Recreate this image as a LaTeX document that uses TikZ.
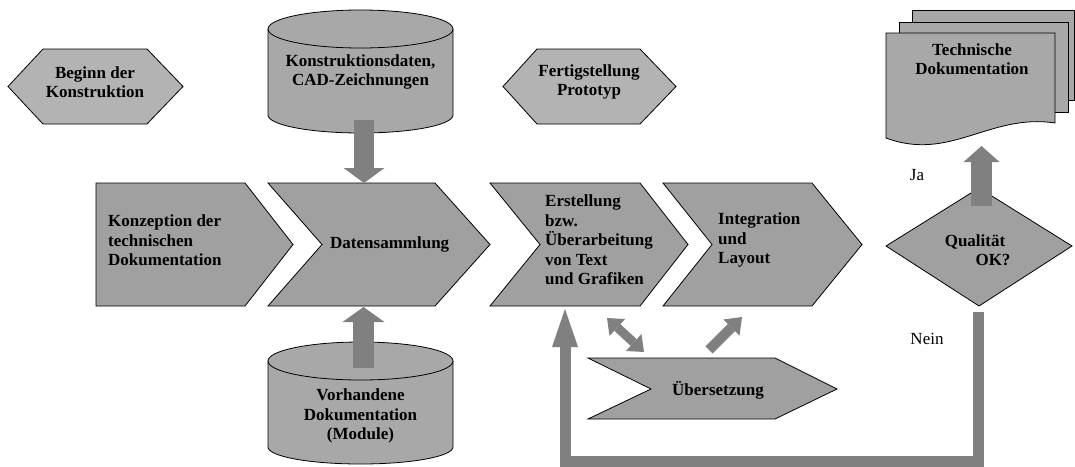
\documentclass[tikz,border=0pt]{standalone}
\usepackage{fontspec}
\setmainfont{Liberation Serif}
\usetikzlibrary{arrows.meta}
\definecolor{hexgray}{HTML}{B3B3B3}
\definecolor{chevgray}{HTML}{A0A0A0}
\definecolor{cylgray}{HTML}{A8A8A8}
\definecolor{arrgray}{HTML}{808080}
\begin{document}
\begin{tikzpicture}[x=1pt,y=-1pt,
  outl/.style={draw=black, line width=0.8pt, line join=miter},
  hexshape/.style={outl, fill=hexgray},
  chevshape/.style={outl, fill=chevgray},
  cylshape/.style={outl, fill=cylgray},
  lbl/.style={font=\fontsize{17}{19.5}\selectfont\bfseries, align=center, inner sep=0pt},
  lbll/.style={font=\fontsize{17}{19.5}\selectfont\bfseries, align=left, inner sep=0pt, anchor=west},
  plain/.style={font=\fontsize{17}{19.5}\selectfont, inner sep=0pt},
  fat/.style={draw=arrgray, line cap=butt, line join=miter}
]
\useasboundingbox (0,0) rectangle (1075,466);

% hexagons
\draw[hexshape] (8,86.5) -- (43,49) -- (147,49) -- (183,86.5) -- (147,124) -- (43,124) -- cycle;
\node[lbl] (beginn) at (95,82) {Beginn der\\Konstruktion};
\draw[hexshape] (503,86.5) -- (537,49) -- (640,49) -- (676,86.5) -- (640,124) -- (537,124) -- cycle;
\node[lbl] (fertig) at (589,82) {Fertigstellung\\Prototyp};

% cylinder 1
\draw[cylshape] (268,29) -- (268,115) arc[start angle=180,end angle=360,x radius=92.5pt,y radius=18pt]
  -- (453,29) arc[start angle=0,end angle=180,x radius=92.5pt,y radius=19pt] -- cycle;
\draw[outl] (268,29) arc[start angle=180,end angle=360,x radius=92.5pt,y radius=19pt];
\node[lbl] (cad) at (360.5,72) {Konstruktionsdaten,\\CAD-Zeichnungen};

% cylinder 2
\draw[cylshape] (268,361) -- (268,447) arc[start angle=180,end angle=360,x radius=92.5pt,y radius=17pt]
  -- (453,361) arc[start angle=0,end angle=180,x radius=92.5pt,y radius=19pt] -- cycle;
\draw[outl] (268,361) arc[start angle=180,end angle=360,x radius=92.5pt,y radius=19pt];
\node[lbl] (vorh) at (360.5,416) {Vorhandene\\Dokumentation\\(Module)};

% chevrons
\draw[chevshape] (96,183) -- (245,183) -- (293,244.5) -- (245,306) -- (96,306) -- cycle;
\node[lbll] (konz) at (108,240.5) {Konzeption der\\technischen\\Dokumentation};
\draw[chevshape] (268,183) -- (435,183) -- (490,244.5) -- (435,306) -- (268,306) -- (322,244.5) -- cycle;
\node[lbll] (daten) at (330,244) {Datensammlung};
\draw[chevshape] (490,183) -- (640,183) -- (688,244.5) -- (640,306) -- (490,306) -- (540,244.5) -- cycle;
\node[lbll] (erst) at (545,240) {Erstellung\\bzw.\\Überarbeitung\\von Text\\und Grafiken};
\draw[chevshape] (663,183) -- (812,183) -- (862,244.5) -- (812,306) -- (663,306) -- (712,244.5) -- cycle;
\node[lbll] (integ) at (718,240) {Integration\\und\\Layout};

% Uebersetzung
\draw[chevshape] (588,358) -- (775,358) -- (837,389) -- (775,419) -- (588,419) -- (651,389) -- cycle;
\node[lbl] (ueber) at (718,390) {Übersetzung};

% diamond
\draw[chevshape] (979,188) -- (1072,246) -- (979,306) -- (886,246) -- cycle;
\node[lbl] (qual) at (975,250) {Qualität\\\hspace*{36pt}OK?};

% technical documentation stack
\draw[cylshape] (912,10) rectangle (1074,100);
\draw[cylshape] (899,22) rectangle (1068,112);
\draw[cylshape] (886,33) -- (1055,33) -- (1055,123) .. controls (990,113) and (950,162) .. (886,138) -- cycle;
\node[lbl] (tdoc) at (972,59) {Technische\\Dokumentation};

% labels
\node[plain] (ja) at (917,175) {Ja};
\node[plain] (nein) at (927,339) {Nein};

% connector end points
\coordinate (cadOut) at (364,120);
\coordinate (datTop) at (364,183);
\coordinate (vorOut) at (363.5,368);
\coordinate (datBot) at (363.5,307);
\coordinate (qualTop) at (981.5,206);
\coordinate (docBot) at (981.5,146);
\coordinate (erstBot) at (565,309);
\coordinate (ueberTop) at (644,352);
\coordinate (erstBot2) at (607,318);
\coordinate (ueberTop2) at (709,350);
\coordinate (integBot) at (742,317);
\coordinate (qualBot) at (978.5,312);
\coordinate (loopBot) at (770,461);

% block arrows
\draw[fat, line width=20pt, -{Triangle[width=41pt,length=15pt,line width=0pt,fill=arrgray]}] (cadOut) -- (datTop);
\draw[fat, line width=21pt, -{Triangle[width=42pt,length=15pt,line width=0pt,fill=arrgray]}] (vorOut) -- (datBot);
\draw[fat, line width=21pt, -{Triangle[width=36pt,length=16pt,line width=0pt,fill=arrgray]}] (qualTop) -- (docBot);
\draw[fat, line width=9pt, {Triangle[width=23pt,length=14pt,line width=0pt,fill=arrgray]}-{Triangle[width=23pt,length=14pt,line width=0pt,fill=arrgray]}] (erstBot2) -- (ueberTop);
\draw[fat, line width=10pt, -{Triangle[width=23pt,length=15pt,line width=0pt,fill=arrgray]}] (ueberTop2) -- (integBot);
\draw[fat, line width=11pt, -{Triangle[width=26pt,length=38pt,line width=0pt,fill=arrgray]}] (qualBot) |- (loopBot) -| (erstBot);
\end{tikzpicture}
\end{document}
